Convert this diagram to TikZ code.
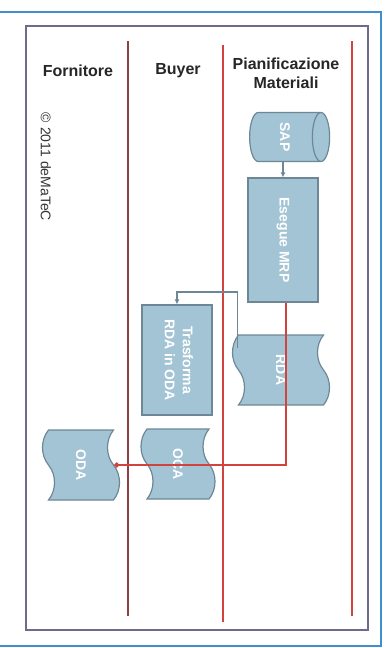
\documentclass[tikz,border=0pt]{standalone}
\usepackage{fontspec}
\setmainfont{Liberation Sans}
\usetikzlibrary{shapes.geometric,shapes.symbols,arrows.meta}
\definecolor{shapefill}{HTML}{A3C4D4}
\definecolor{shapeline}{HTML}{6E8796}
\definecolor{lanered}{HTML}{D2423F}
\definecolor{lanedark}{HTML}{8E3F3F}
\definecolor{framegray}{HTML}{6C6C8A}
\definecolor{frameblue}{HTML}{3E8ED0}

\begin{document}
\begin{tikzpicture}[x=1pt,y=-1pt,line width=1pt,
  box/.style={draw=shapeline,fill=shapefill,line width=1.2pt,text=white,font=\bfseries\fontsize{14}{16}\selectfont,inner sep=0pt},
  tapebox/.style={box,tape,rotate=-90,tape bend height=12pt},
  lane/.style={lanered,line width=1.8pt},
  head/.style={font=\bfseries\fontsize{16}{19}\selectfont,text=black!85,align=center},
  flow/.style={shapeline,line width=1.2pt,-{Latex[length=5pt,width=5pt]}}]
\useasboundingbox (0,0) rectangle (389,648);
\draw[frameblue,line width=1.2pt] (0,12) -- (381,12) -- (381,646) -- (0,646);
\draw[framegray,line width=2pt] (26,26) rectangle (368,630);
% lanes
\draw[lane,lanedark] (128,41) -- (128,616);
\draw[lane] (223,45) -- (223,622);
\draw[lane] (352,41) -- (352,616);
\node[head] (fornitore) at (78,71) {Fornitore};
\node[head] (buyer) at (178,71) {Buyer};
\node[head] (pianif) at (286,73) {Pianificazione\\Materiali};
\node[rotate=-90,font=\fontsize{14}{16}\selectfont,text=black!80] (copy) at (46,167) {© 2011 deMaTeC};
% shapes
\node[box,cylinder,minimum width=49pt,minimum height=80pt,aspect=0.6,
  cylinder uses custom fill,cylinder body fill=shapefill,cylinder end fill=shapefill!60!white] (sap) at (285,137) {\rotatebox{-90}{SAP}};
\node[box,minimum width=70pt,minimum height=124pt] (mrp) at (283,240) {\rotatebox{-90}{Esegue MRP}};
\node[box,minimum width=70pt,minimum height=110pt] (trasf) at (177,360)
  {\rotatebox{-90}{\begin{tabular}{@{}c@{}}Trasforma\\[2pt]RDA in ODA\end{tabular}}};
\node[tapebox,minimum width=70pt,minimum height=97pt] (rda) at (281,370) {RDA};
\node[tapebox,minimum width=70pt,minimum height=74pt] (oca) at (178,464) {OCA};
\node[tapebox,minimum width=70pt,minimum height=77pt] (oda) at (81,465) {ODA};
% connectors
\draw[flow] (sap.south -| mrp.north) -- (mrp.north);
\draw[flow] ([yshift=22pt]rda.south) -- ++(0,-56) -| (trasf.north);
\draw[lanered,line width=1.5pt,-{Circle[length=5pt]}] ([xshift=3pt]mrp.south) |- (oda);
\end{tikzpicture}
\end{document}
